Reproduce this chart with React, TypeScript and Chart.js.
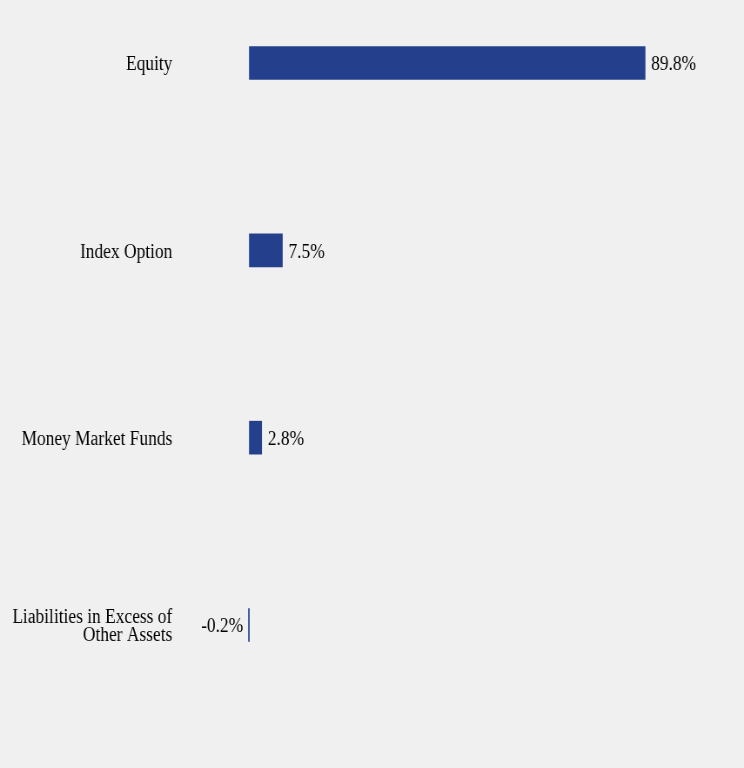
import React, { useEffect, useRef } from 'react';
import { Chart, registerables } from 'chart.js';

Chart.register(...registerables);

// data
const categories: (string | string[])[] = [
  'Equity',
  'Index Option',
  'Money Market Funds',
  ['Liabilities in Excess of', 'Other Assets']
];
const values = [89.8, 7.5, 2.8, -0.2];
const valueLabels = ['89.8%', '7.5%', '2.8%', '-0.2%'];

// the reference text is horizontally condensed, so draw on a wider canvas and squeeze it
const SQUEEZE = 0.87;
const CSS_W = 744;
const CSS_H = 768;
const CANVAS_W = Math.round(CSS_W / SQUEEZE);
const FONT = '"Liberation Serif", "Times New Roman", serif';
const BAR_COLOR = '#243f8b';

const valueLabelPlugin = {
  id: 'valueLabels',
  afterDatasetsDraw(chart: Chart) {
    const { ctx } = chart;
    const meta = chart.getDatasetMeta(0);
    ctx.save();
    ctx.font = `20px ${FONT}`;
    ctx.fillStyle = '#000';
    ctx.textBaseline = 'middle';
    meta.data.forEach((bar: any, i: number) => {
      const neg = values[i] < 0;
      ctx.textAlign = neg ? 'right' : 'left';
      ctx.fillText(valueLabels[i], bar.x + (neg ? -6 : 7), bar.y + 2);
    });
    ctx.restore();
  }
};

const App: React.FC = () => {
  const canvasRef = useRef<HTMLCanvasElement>(null);

  useEffect(() => {
    document.body.style.margin = '0';
    document.body.style.background = '#f0f0f0';
    const ctx = canvasRef.current?.getContext('2d');
    if (!ctx) return;

    const chart = new Chart(ctx, {
      type: 'bar',
      data: {
        labels: categories,
        datasets: [
          {
            data: values,
            backgroundColor: BAR_COLOR,
            borderWidth: 0,
            barThickness: 33,
            clip: false
          }
        ]
      },
      options: {
        indexAxis: 'y',
        responsive: false,
        devicePixelRatio: 1,
        animation: false,
        layout: {
          padding: { top: 63, bottom: 143, left: 0, right: 62 }
        },
        plugins: {
          legend: { display: false },
          tooltip: { enabled: false }
        },
        scales: {
          x: {
            display: false,
            min: -0.5,
            max: 100
          },
          y: {
            offset: false,
            border: { display: false },
            grid: { display: false, drawTicks: false },
            ticks: {
              padding: 86,
              labelOffset: 2,
              color: '#000',
              font: { family: FONT, size: 20, lineHeight: 0.92 }
            },
            afterFit: (scale: any) => {
              scale.width = 284;
              scale.paddingTop = 0;
              scale.paddingBottom = 0;
            }
          }
        }
      },
      plugins: [valueLabelPlugin]
    });

    return () => {
      chart.destroy();
    };
  }, []);

  return (
    <div style={{ width: CSS_W, height: CSS_H, background: '#f0f0f0', overflow: 'hidden' }}>
      <canvas
        ref={canvasRef}
        width={CANVAS_W}
        height={CSS_H}
        style={{ width: CSS_W, height: CSS_H, display: 'block' }}
      />
    </div>
  );
};

export default App;
